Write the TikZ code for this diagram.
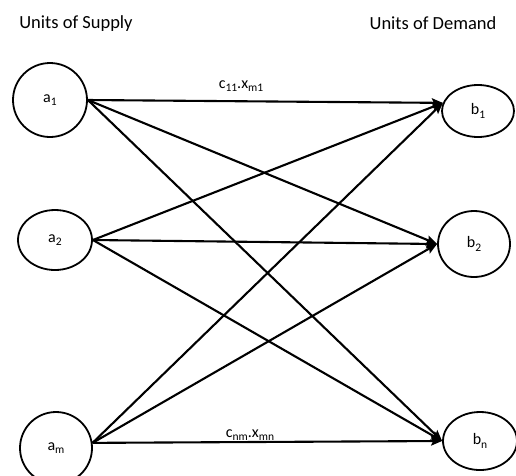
\documentclass[tikz,border=0pt]{standalone}
\usepackage{fontspec}
\setmainfont{Carlito}
\usetikzlibrary{shapes.geometric,arrows.meta}
\newcommand\lowsub[1]{\raisebox{-0.45ex}{\fontsize{0.72em}{1em}\selectfont #1}}
\begin{document}
\begin{tikzpicture}[x=1pt,y=-1pt,
  ell/.style={ellipse,draw,line width=1.8pt,inner sep=0pt,font=\fontsize{16}{18}\selectfont},
  flow/.style={line width=2.1pt,-{Stealth[length=11pt,width=9pt,inset=2pt]}},
  title/.style={font=\fontsize{18.5}{20}\selectfont,inner sep=0pt},
  lbl/.style={font=\fontsize{16}{18}\selectfont,inner sep=0pt}]
\useasboundingbox (0,0) rectangle (516,475);
\fill[white] (0,0) rectangle (516,475);
\node[title] (ts) at (76,24) {Units of Supply};
\node[title] (td) at (433,23) {Units of Demand};
\node[ell,minimum width=74pt,minimum height=74pt] (a1) at (50,100) {a\lowsub{1}};
\node[ell,minimum width=74pt,minimum height=60pt] (a2) at (55,240) {a\lowsub{2}};
\node[ell,minimum width=72pt,minimum height=72pt] (am) at (56,448) {a\lowsub{m}};
\node[ell,minimum width=72pt,minimum height=52pt] (b1) at (478,111) {b\lowsub{1}};
\node[ell,minimum width=72pt,minimum height=66pt] (b2) at (474,244) {b\lowsub{2}};
\node[ell,minimum width=74pt,minimum height=58pt] (bn) at (480,441) {b\lowsub{n}};
\coordinate (oa1) at (a1.east);
\coordinate (oa2) at (a2.east);
\coordinate (oam) at (am.8);
\coordinate (ib1) at (b1.167);
\coordinate (ib2) at (b2.west);
\coordinate (ibn) at (bn.west);
\foreach \s in {oa1,oa2,oam}{
  \foreach \t in {ib1,ib2,ibn}{
    \draw[flow] (\s) -- (\t);
  }
}
\node[lbl] (l1) at (241,86) {c\lowsub{11}.x\lowsub{m1}};
\node[lbl] (l2) at (250,435) {c\lowsub{nm}.x\lowsub{mn}};
\end{tikzpicture}
\end{document}
